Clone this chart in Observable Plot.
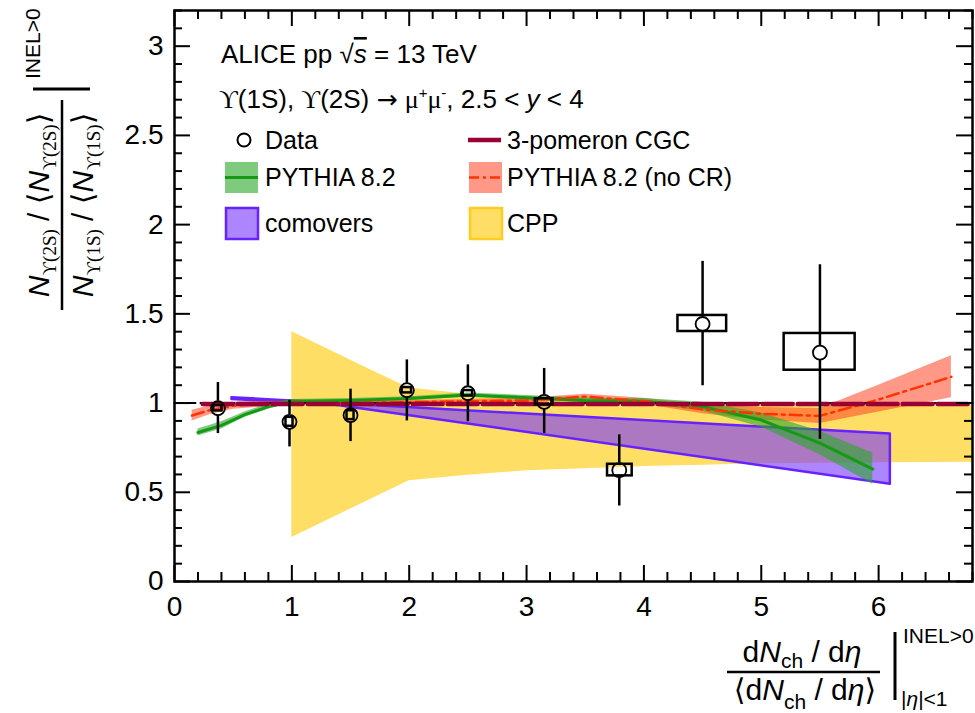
<!DOCTYPE html>
<html>
<head>
<meta charset="utf-8">
<script src="https://cdn.jsdelivr.net/npm/d3@7"></script>
<script src="https://cdn.jsdelivr.net/npm/@observablehq/plot@0.6"></script>
<style>
  html, body { margin: 0; padding: 0; background: #fff; }
  svg { display: block; }
</style>
</head>
<body>
<div id="chart"></div>
<script>
// ---------- data ----------
const xTicks = [0, 1, 2, 3, 4, 5, 6];
const yTicks = [0, 0.5, 1, 1.5, 2, 2.5, 3];

// ALICE data points
const dataX    = [0.37, 0.98, 1.50, 1.98, 2.50, 3.15, 3.79, 4.50, 5.50];
const dataY    = [0.971, 0.895, 0.932, 1.072, 1.055, 1.007, 0.624, 1.443, 1.283];
const statLow  = [0.829, 0.754, 0.784, 0.900, 0.895, 0.829, 0.423, 1.097, 0.797];
const statHigh = [1.115, 1.016, 1.078, 1.242, 1.214, 1.194, 0.822, 1.794, 1.775];
const sysX1 = [0.335, 0.950, 1.470, 1.940, 2.460, 3.075, 3.690, 4.290, 5.195];
const sysX2 = [0.405, 1.010, 1.530, 2.020, 2.540, 3.225, 3.900, 4.705, 5.800];
const sysY1 = [0.956, 0.870, 0.907, 1.057, 1.040, 0.990, 0.592, 1.401, 1.184];
const sysY2 = [0.986, 0.920, 0.957, 1.087, 1.070, 1.024, 0.657, 1.491, 1.390];

// PYTHIA 8.2
const pyX    = [0.2, 0.4, 0.6, 0.8, 1.0, 1.5, 2.0, 2.5, 3.0, 3.5, 4.0, 4.5, 5.0, 5.5, 5.95];
const pyY    = [0.835, 0.875, 0.935, 0.980, 1.010, 1.015, 1.025, 1.045, 1.030, 1.015, 1.010, 0.980, 0.905, 0.775, 0.630];
const pyLow  = [0.815, 0.855, 0.920, 0.965, 1.000, 1.005, 1.015, 1.033, 1.018, 1.003, 0.995, 0.955, 0.865, 0.710, 0.545];
const pyHigh = [0.855, 0.895, 0.950, 0.995, 1.020, 1.025, 1.035, 1.057, 1.042, 1.027, 1.025, 1.005, 0.945, 0.840, 0.720];

// PYTHIA 8.2 (no CR)
const ncX    = [0.15, 0.3, 0.5, 0.8, 1.0, 1.5, 2.0, 2.5, 3.0, 3.5, 4.0, 4.5, 5.0, 5.5, 6.0, 6.62];
const ncY    = [0.930, 0.960, 0.985, 0.995, 1.000, 1.000, 1.005, 1.010, 1.015, 1.036, 1.010, 0.965, 0.940, 0.928, 1.020, 1.147];
const ncLow  = [0.900, 0.935, 0.965, 0.980, 0.990, 0.990, 0.995, 1.000, 1.003, 1.022, 0.993, 0.940, 0.905, 0.885, 0.950, 1.030];
const ncHigh = [0.960, 0.985, 1.005, 1.010, 1.010, 1.010, 1.015, 1.020, 1.027, 1.050, 1.027, 0.990, 0.975, 0.970, 1.100, 1.265];

// comovers
const comX    = [0.49, 1.3, 6.1];
const comLow  = [1.020, 0.995, 0.545];
const comHigh = [1.030, 1.000, 0.826];

// CPP
const cppX    = [1.0, 1.66, 2.0, 2.5, 3.0, 3.5, 4.0, 4.5, 5.0, 6.0, 6.8];
const cppLow  = [0.246, 0.457, 0.565, 0.595, 0.620, 0.632, 0.645, 0.652, 0.660, 0.665, 0.668];
const cppHigh = [1.400, 1.190, 1.085, 1.050, 1.035, 1.030, 1.010, 0.995, 0.990, 0.985, 0.985];

// 3-pomeron CGC
const cgcX = [0.24, 6.8];
const cgcY = [0.995, 0.995];

// reference line
const refX = [0, 6.8];
const refY = [1, 1];

// ---------- build tables ----------
const pts = dataX.map((x, i) => ({x, y: dataY[i], lo: statLow[i], hi: statHigh[i],
  x1: sysX1[i], x2: sysX2[i], y1: sysY1[i], y2: sysY2[i]}));
const py = pyX.map((x, i) => ({x, y: pyY[i], lo: pyLow[i], hi: pyHigh[i]}));
const nc = ncX.map((x, i) => ({x, y: ncY[i], lo: ncLow[i], hi: ncHigh[i]}));
const com = comX.map((x, i) => ({x, lo: comLow[i], hi: comHigh[i]}));
const cpp = cppX.map((x, i) => ({x, lo: cppLow[i], hi: cppHigh[i]}));
const cgc = cgcX.map((x, i) => ({x, y: cgcY[i]}));
const ref = refX.map((x, i) => ({x, y: refY[i]}));

const minorX = d3.range(0, 6.81, 0.2).map(v => +v.toFixed(2)).filter(v => !xTicks.includes(v));
const minorY = d3.range(0, 3.201, 0.1).map(v => +v.toFixed(2)).filter(v => !yTicks.includes(v));

const W = 975, H = 713;
const mT = 10, mR = 3, mB = 132, mL = 174;
const innerH = H - mT - mB, innerW = W - mL - mR;

const C = {
  yellow: "#ffde66", purpleFill: "#7733ff", purpleStroke: "#6622ff",
  salmon: "#ff4422", red: "#ff3300", greenFill: "#28a828", green: "#169a16",
  maroon: "#990033"
};

const plot = Plot.plot({
  width: W, height: H,
  marginTop: mT, marginRight: mR, marginBottom: mB, marginLeft: mL,
  style: {fontFamily: "'Liberation Sans', Arial, Helvetica, sans-serif", background: "white"},
  x: {domain: [0, 6.8]},
  y: {domain: [0, 3.2]},
  marks: [
    Plot.areaY(cpp, {x: "x", y1: "lo", y2: "hi", fill: C.yellow, curve: "linear"}),
    Plot.areaY(com, {x: "x", y1: "lo", y2: "hi", fill: C.purpleFill, fillOpacity: 0.6,
      stroke: C.purpleStroke, strokeWidth: 2.5, curve: "linear"}),
    Plot.areaY(nc, {x: "x", y1: "lo", y2: "hi", fill: C.salmon, fillOpacity: 0.55, curve: "linear"}),
    Plot.areaY(py, {x: "x", y1: "lo", y2: "hi", fill: C.greenFill, fillOpacity: 0.6, curve: "linear"}),
    Plot.line(py, {x: "x", y: "y", stroke: C.green, strokeWidth: 3, curve: "linear"}),
    Plot.line(nc, {x: "x", y: "y", stroke: C.red, strokeWidth: 2.5, strokeDasharray: "12,5,3,5", curve: "linear"}),
    Plot.line(ref, {x: "x", y: "y", stroke: "black", strokeWidth: 2, strokeDasharray: "8,5"}),
    Plot.line(cgc, {x: "x", y: "y", stroke: C.maroon, strokeWidth: 4.5, strokeDasharray: "30,5"}),
    // data
    Plot.ruleX(pts, {x: "x", y1: "hi", y2: "y", stroke: "black", strokeWidth: 2.5, insetBottom: 7}),
    Plot.ruleX(pts, {x: "x", y1: "y", y2: "lo", stroke: "black", strokeWidth: 2.5, insetTop: 7}),
    Plot.rect(pts, {x1: "x1", x2: "x2", y1: "y1", y2: "y2", fill: "none", stroke: "black", strokeWidth: 2.5}),
    Plot.dot(pts, {x: "x", y: "y", r: 7, stroke: "black", strokeWidth: 1.8, fill: "none"}),
    // frame & ticks (ticks on all four sides, inward)
    Plot.tickX(xTicks, {x: d => d, insetTop: innerH - 16, stroke: "black", strokeWidth: 2}),
    Plot.tickX(xTicks, {x: d => d, insetBottom: innerH - 16, stroke: "black", strokeWidth: 2}),
    Plot.tickX(minorX, {x: d => d, insetTop: innerH - 9, stroke: "black", strokeWidth: 2}),
    Plot.tickX(minorX, {x: d => d, insetBottom: innerH - 9, stroke: "black", strokeWidth: 2}),
    Plot.tickY(yTicks, {y: d => d, insetRight: innerW - 16, stroke: "black", strokeWidth: 2}),
    Plot.tickY(yTicks, {y: d => d, insetLeft: innerW - 16, stroke: "black", strokeWidth: 2}),
    Plot.tickY(minorY, {y: d => d, insetRight: innerW - 8, stroke: "black", strokeWidth: 2}),
    Plot.tickY(minorY, {y: d => d, insetLeft: innerW - 8, stroke: "black", strokeWidth: 2}),
    Plot.frame({stroke: "black", strokeWidth: 2.5}),
    Plot.axisX({ticks: xTicks, tickSize: 0, tickPadding: 15, fontSize: 28, tickFormat: d => String(d), label: null, fill: "black"}),
    Plot.axisY({ticks: yTicks, tickSize: 0, tickPadding: 11, fontSize: 28, tickFormat: d => String(d), label: null, fill: "black"})
  ]
});

document.getElementById("chart").appendChild(plot);

// ---------- annotations ----------
const svg = d3.select(plot);
const FONT = "'Liberation Sans', Arial, Helvetica, sans-serif";
const SERIF = "'Liberation Serif', 'DejaVu Serif', serif";
const ang = "'DejaVu Sans', sans-serif";

function rich(parent, x, y, size, parts, anchor = "start") {
  const t = parent.append("text").attr("x", x).attr("y", y)
    .attr("font-size", size).attr("font-family", FONT).attr("fill", "black")
    .attr("text-anchor", anchor);
  for (const p of parts) {
    const s = t.append("tspan").text(p.t);
    if (p.i) s.attr("font-style", "italic");
    if (p.f) s.attr("font-family", p.f);
    if (p.s) s.attr("font-size", p.s);
    if (p.dy) s.attr("dy", p.dy);
    if (p.o) s.attr("text-decoration", "overline");
  }
  return t;
}

// header
rich(svg, 221, 63, 26, [
  {t: "ALICE pp "}, {t: "√"}, {t: "s", i: true, o: true}, {t: " = 13 TeV"}
]);
rich(svg, 219, 108, 26, [
  {t: "ϒ", f: SERIF}, {t: "(1S), "}, {t: "ϒ", f: SERIF}, {t: "(2S) "}, {t: "→", f: ang, s: 25}, {t: " "},
  {t: "μ", f: SERIF}, {t: "+", s: 15, dy: -10}, {t: "μ", f: SERIF, dy: 10},
  {t: "-", s: 15, dy: -10}, {t: ", 2.5 < ", dy: 10}, {t: "y", i: true}, {t: " < 4"}
]);

// legend
const L = svg.append("g");
L.append("circle").attr("cx", 244).attr("cy", 140).attr("r", 6.5)
  .attr("fill", "none").attr("stroke", "black").attr("stroke-width", 2);
rich(L, 265, 149, 25, [{t: "Data"}]);
L.append("line").attr("x1", 468).attr("x2", 501).attr("y1", 140).attr("y2", 140)
  .attr("stroke", C.maroon).attr("stroke-width", 4.5);
rich(L, 507, 149, 25, [{t: "3-pomeron CGC"}]);

L.append("rect").attr("x", 225).attr("y", 162).attr("width", 33).attr("height", 31)
  .attr("fill", C.greenFill).attr("fill-opacity", 0.6);
L.append("line").attr("x1", 225).attr("x2", 258).attr("y1", 177.5).attr("y2", 177.5)
  .attr("stroke", C.green).attr("stroke-width", 3);
rich(L, 265, 186, 25, [{t: "PYTHIA 8.2"}]);
L.append("rect").attr("x", 469).attr("y", 162).attr("width", 33).attr("height", 31)
  .attr("fill", C.salmon).attr("fill-opacity", 0.55);
L.append("line").attr("x1", 469).attr("x2", 502).attr("y1", 177.5).attr("y2", 177.5)
  .attr("stroke", C.red).attr("stroke-width", 2.5).attr("stroke-dasharray", "10,4,3,4");
rich(L, 507, 186, 25, [{t: "PYTHIA 8.2 (no CR)"}]);

L.append("rect").attr("x", 226).attr("y", 208).attr("width", 32).attr("height", 31)
  .attr("fill", C.purpleFill).attr("fill-opacity", 0.6)
  .attr("stroke", C.purpleStroke).attr("stroke-width", 2.5);
rich(L, 265, 232, 25, [{t: "comovers"}]);
L.append("rect").attr("x", 470).attr("y", 208).attr("width", 32).attr("height", 31)
  .attr("fill", C.yellow).attr("stroke", "#ffcc22").attr("stroke-width", 2.5);
rich(L, 507, 232, 25, [{t: "CPP"}]);

// y-axis title (rotated)
const G = svg.append("g").attr("transform", "rotate(-90)");
const yNum = [
  {t: "N", i: true}, {t: "ϒ(2S)", f: SERIF, s: 19, dy: 7}, {t: " / ", dy: -7}, {t: "⟨", f: ang},
  {t: "N", i: true}, {t: "ϒ(2S)", f: SERIF, s: 19, dy: 7}, {t: "⟩", f: ang, dy: -7}
];
const yDen = [
  {t: "N", i: true}, {t: "ϒ(1S)", f: SERIF, s: 19, dy: 7}, {t: " / ", dy: -7}, {t: "⟨", f: ang},
  {t: "N", i: true}, {t: "ϒ(1S)", f: SERIF, s: 19, dy: 7}, {t: "⟩", f: ang, dy: -7}
];
rich(G, -205, 49, 30, yNum, "middle");
rich(G, -205, 93, 30, yDen, "middle");
G.append("line").attr("x1", -310).attr("x2", -100).attr("y1", 62).attr("y2", 62)
  .attr("stroke", "black").attr("stroke-width", 2.5);
G.append("line").attr("x1", -89).attr("x2", -89).attr("y1", 33).attr("y2", 90)
  .attr("stroke", "black").attr("stroke-width", 3);
rich(G, -79, 40, 21, [{t: "INEL>0"}]);

// x-axis title
const X = svg.append("g");
rich(X, 802, 662, 30, [
  {t: "d"}, {t: "N", i: true}, {t: "ch", s: 21, dy: 6}, {t: " / d", dy: -6}, {t: "η", i: true}
], "middle");
X.append("line").attr("x1", 727).attr("x2", 880).attr("y1", 672).attr("y2", 672)
  .attr("stroke", "black").attr("stroke-width", 2.5);
rich(X, 805, 700, 30, [
  {t: "⟨", f: ang}, {t: "d"}, {t: "N", i: true}, {t: "ch", s: 21, dy: 9}, {t: " / d", dy: -9},
  {t: "η", i: true}, {t: "⟩", f: ang}
], "middle");
X.append("line").attr("x1", 895).attr("x2", 895).attr("y1", 632).attr("y2", 700)
  .attr("stroke", "black").attr("stroke-width", 3);
rich(X, 903, 643, 21, [{t: "INEL>0"}]);
rich(X, 901, 706, 21, [{t: "|"}, {t: "η", i: true}, {t: "|<1"}]);
</script>
</body>
</html>
